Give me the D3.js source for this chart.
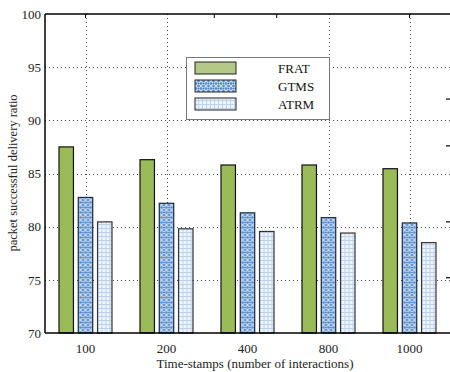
<!DOCTYPE html>
<html>
<head>
<meta charset="utf-8">
<script src="https://cdn.jsdelivr.net/npm/d3@7"></script>
<style>
  body { margin: 0; background: #fff; }
  text { font-family: "Liberation Serif", "Times New Roman", serif; }
</style>
</head>
<body>
<div id="chart"></div>
<script>
const w = 450;
const h = 372;

// data
const categories = ["100", "200", "400", "800", "1000"];
const series = ["FRAT", "GTMS", "ATRM"];
const FRAT = [87.5, 86.3, 85.8, 85.8, 85.45];
const GTMS = [82.75, 82.2, 81.3, 80.85, 80.35];
const ATRM = [80.45, 79.8, 79.55, 79.4, 78.5];
const yTicks = [70, 75, 80, 85, 90, 95, 100];
const gridCats = ["100", "200", "800", "1000"];
const topTicks = [0, 1.59, 2.36, 4];
const rightTicks = [92.0, 87.6, 80.45, 75.2];

const values = { FRAT: FRAT, GTMS: GTMS, ATRM: ATRM };
const fills = { FRAT: "#9bbb59", GTMS: "url(#gtms)", ATRM: "url(#atrm)" };
const strokes = { FRAT: "#111", GTMS: "#1a2a44", ATRM: "#333" };

const m = { left: 45, top: 14, right: 0, bottom: 39 };

let svg = d3.select("#chart").append("svg")
    .attr("width", w).attr("height", h);

// patterns
let defs = svg.append("defs");
let pg = defs.append("pattern").attr("id", "gtms")
    .attr("patternUnits", "userSpaceOnUse").attr("width", 5).attr("height", 5);
pg.append("rect").attr("width", 5).attr("height", 5).attr("fill", "#5a8ecb");
pg.append("path").attr("d", "M0,0L5,5M5,0L0,5").attr("stroke", "#cfe0f3").attr("stroke-width", 1.1);
pg.append("circle").attr("cx", 2.5).attr("cy", 2.5).attr("r", 0.8).attr("fill", "#4a7fbf");

let pa = defs.append("pattern").attr("id", "atrm")
    .attr("patternUnits", "userSpaceOnUse").attr("width", 4).attr("height", 4);
pa.append("rect").attr("width", 4).attr("height", 4).attr("fill", "#eef4fb");
pa.append("path").attr("d", "M0,0.5H4M0.5,0V4").attr("stroke", "#bcd1ea").attr("stroke-width", 1);

// scales
let x = d3.scaleBand().domain(categories).range([m.left, w - m.right]);
let xi = d3.scaleBand().domain(series).range([-26.5, 26.5]).paddingInner(0.25);
let xl = d3.scaleLinear().domain([-0.5, categories.length - 0.5]).range([m.left, w - m.right]);
let y = d3.scaleLinear().domain([70, 100]).range([h - m.bottom, m.top]);

// grid
let grid = svg.append("g").attr("stroke", "#444").attr("stroke-width", 1)
    .attr("stroke-dasharray", "1,3").attr("fill", "none");
grid.selectAll(".hg").data(yTicks.slice(1, -1)).join("line")
    .attr("x1", m.left).attr("x2", w)
    .attr("y1", d => Math.round(y(d)) + 0.5).attr("y2", d => Math.round(y(d)) + 0.5);
grid.selectAll(".vg").data(gridCats).join("line")
    .attr("x1", d => Math.round(x(d) + x.bandwidth() / 2) + 0.5)
    .attr("x2", d => Math.round(x(d) + x.bandwidth() / 2) + 0.5)
    .attr("y1", m.top).attr("y2", h - m.bottom);

// bars
let groups = svg.append("g").selectAll("g").data(categories).join("g")
    .attr("transform", d => "translate(" + (x(d) + x.bandwidth() / 2) + ",0)");
groups.selectAll("rect")
    .data((d, i) => series.map(s => ({ s: s, v: values[s][i] })))
    .join("rect")
    .attr("x", d => xi(d.s))
    .attr("width", xi.bandwidth())
    .attr("y", d => y(d.v))
    .attr("height", d => y(70) - y(d.v))
    .attr("fill", d => fills[d.s])
    .attr("stroke", d => strokes[d.s])
    .attr("stroke-width", 1.2);

// frame
let frame = svg.append("g").attr("stroke", "#000").attr("fill", "none");
frame.append("line").attr("x1", m.left).attr("x2", m.left).attr("y1", m.top).attr("y2", h - m.bottom).attr("stroke-width", 1.5);
frame.append("line").attr("x1", m.left).attr("x2", w).attr("y1", m.top).attr("y2", m.top).attr("stroke-width", 1.5);
frame.append("line").attr("x1", m.left).attr("x2", w).attr("y1", h - m.bottom).attr("y2", h - m.bottom).attr("stroke-width", 1.5);
frame.selectAll(".tt").data(topTicks).join("line")
    .attr("x1", d => xl(d)).attr("x2", d => xl(d))
    .attr("y1", m.top).attr("y2", m.top + 4).attr("stroke-width", 1);
frame.selectAll(".rt").data(rightTicks).join("line")
    .attr("x1", w - 4).attr("x2", w)
    .attr("y1", d => y(d)).attr("y2", d => y(d)).attr("stroke-width", 1.2);

// axes
let yAxis = svg.append("g").attr("transform", "translate(" + m.left + ",0)")
    .call(d3.axisLeft(y).tickValues(yTicks).tickSize(0).tickPadding(4));
yAxis.select(".domain").remove();
yAxis.selectAll("text").attr("font-size", 13).attr("fill", "#222")
    .attr("font-family", "Liberation Serif, serif");

let xAxis = svg.append("g").attr("transform", "translate(0," + (h - m.bottom) + ")")
    .call(d3.axisBottom(x).tickSize(0).tickPadding(11));
xAxis.select(".domain").remove();
xAxis.selectAll("text").attr("font-size", 13).attr("fill", "#222")
    .attr("font-family", "Liberation Serif, serif");

svg.append("text").attr("x", 255).attr("y", 368).attr("text-anchor", "middle")
    .attr("font-size", 13).attr("fill", "#222").text("Time-stamps (number of interactions)");
svg.append("text").attr("transform", "translate(17,173) rotate(-90)")
    .attr("text-anchor", "middle").attr("font-size", 12.5).attr("fill", "#222")
    .text("packet successful delivery ratio");

// legend
let lg = svg.append("g").attr("transform", "translate(186,57)");
lg.append("rect").attr("x", 0.5).attr("y", 0.5).attr("width", 143).attr("height", 62)
    .attr("fill", "#fff").attr("stroke", "#777").attr("stroke-width", 1);
let items = lg.selectAll(".it").data(series).join("g")
    .attr("transform", (d, i) => "translate(0," + (11 + i * 18) + ")");
items.append("rect").attr("x", 9).attr("y", -6).attr("width", 41).attr("height", 12)
    .attr("fill", d => d === "FRAT" ? "#b5c888" : fills[d])
    .attr("stroke", "#222").attr("stroke-width", 1);
items.append("text").attr("x", 92).attr("y", 4.5).attr("font-size", 13).attr("fill", "#111")
    .text(d => d);
</script>
</body>
</html>
